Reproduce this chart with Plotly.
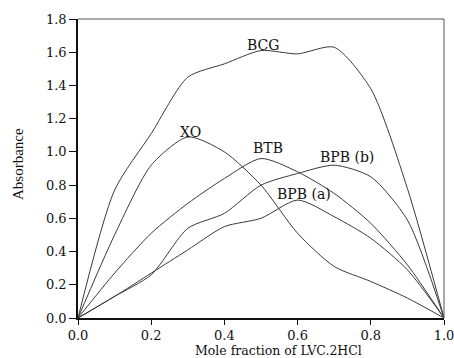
import plotly.graph_objects as go

x_frac = [0.0, 0.1, 0.2, 0.3, 0.4, 0.5, 0.6, 0.7, 0.8, 0.9, 1.0]
bcg = [0.0, 0.77, 1.11, 1.45, 1.53, 1.61, 1.59, 1.63, 1.38, 0.78, 0.0]
xo = [0.0, 0.50, 0.92, 1.09, 1.00, 0.80, 0.51, 0.31, 0.22, 0.12, 0.0]
btb = [0.0, 0.27, 0.51, 0.69, 0.84, 0.96, 0.88, 0.75, 0.57, 0.32, 0.0]
bpb_b = [0.0, 0.13, 0.26, 0.54, 0.63, 0.80, 0.87, 0.92, 0.85, 0.59, 0.0]
bpb_a = [0.0, 0.13, 0.27, 0.41, 0.55, 0.60, 0.71, 0.61, 0.48, 0.29, 0.0]

series = [("BCG", bcg), ("XO", xo), ("BTB", btb), ("BPB (b)", bpb_b), ("BPB (a)", bpb_a)]

label_names = ["BCG", "XO", "BTB", "BPB (b)", "BPB (a)"]
label_x = [0.505, 0.306, 0.52, 0.735, 0.617]
label_y = [1.646, 1.12, 1.025, 0.97, 0.748]

x_ticks = [0.0, 0.2, 0.4, 0.6, 0.8, 1.0]
y_ticks = [0.0, 0.2, 0.4, 0.6, 0.8, 1.0, 1.2, 1.4, 1.6, 1.8]

FONT = "DejaVu Serif"

fig = go.Figure()
for name, vals in series:
    fig.add_trace(go.Scatter(
        x=x_frac, y=vals, mode="lines", name=name,
        line=dict(color="#3a3a3a", width=1, shape="spline", smoothing=0.7),
        showlegend=False, hoverinfo="skip"))

for name, lx, ly in zip(label_names, label_x, label_y):
    fig.add_annotation(x=lx, y=ly, text=name, showarrow=False,
                       font=dict(family=FONT, size=14, color="#111"),
                       xanchor="center", yanchor="middle")

fig.add_annotation(xref="paper", yref="paper", x=0.549, y=-0.108,
                   text="Mole fraction of LVC.2HCl", showarrow=False,
                   font=dict(family=FONT, size=12.5, color="#111"),
                   xanchor="center", yanchor="middle")
fig.add_annotation(xref="paper", yref="paper", x=-0.164, y=0.515,
                   text="Absorbance", showarrow=False, textangle=-90,
                   font=dict(family="Liberation Serif", size=15, color="#111"),
                   xanchor="center", yanchor="middle")

# top and right frame lines (thinner, gray)
fig.add_shape(type="line", xref="paper", yref="paper", x0=0, x1=1, y0=1, y1=1,
              line=dict(color="#555", width=1))
fig.add_shape(type="line", xref="paper", yref="paper", x0=1, x1=1, y0=0, y1=1,
              line=dict(color="#555", width=1))

fig.update_xaxes(range=[0, 1.0], tickvals=x_ticks, ticktext=[f"{v:.1f}" for v in x_ticks],
                 showgrid=False, zeroline=False, showline=True, linecolor="#111", linewidth=1.5,
                 ticks="outside", ticklen=5, tickcolor="#111", tickwidth=1,
                 ticklabeloverflow="allow", automargin=False,
                 tickfont=dict(family=FONT, size=13, color="#111"))
fig.update_yaxes(range=[0, 1.8], tickvals=y_ticks, ticktext=[f"{v:.1f}" for v in y_ticks],
                 showgrid=False, zeroline=False, showline=True, linecolor="#111", linewidth=1.5,
                 ticks="outside", ticklen=7, tickcolor="#111", tickwidth=1,
                 ticklabeloverflow="allow", automargin=False,
                 tickfont=dict(family=FONT, size=13, color="#111"))

fig.update_layout(width=454, height=358, margin=dict(l=78, r=10, t=19, b=40),
                  paper_bgcolor="white", plot_bgcolor="white")

fig.write_html("out.html")
